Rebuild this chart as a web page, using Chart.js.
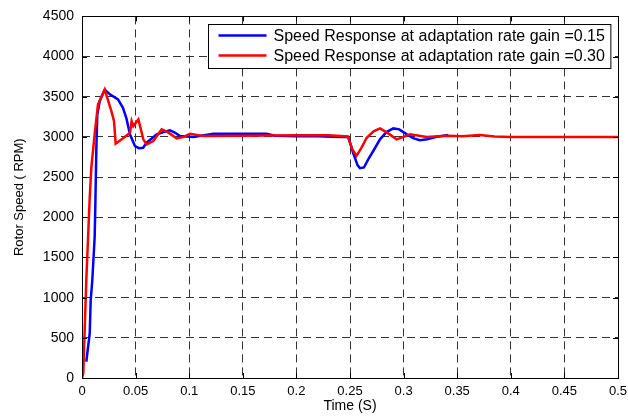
<!DOCTYPE html>
<html>
<head>
<meta charset="utf-8">
<script src="https://cdn.jsdelivr.net/npm/chart.js@4.4.0/dist/chart.umd.min.js"></script>
<style>
  html, body { margin: 0; padding: 0; background: #fff; }
  #wrap { width: 628px; height: 417px; }
</style>
</head>
<body>
<div id="wrap"><canvas id="speedChart" width="628" height="417"></canvas></div>
<script>
// Values
const timeBlue = [0.004, 0.0072, 0.0081, 0.0096, 0.0118, 0.0124, 0.0134, 0.0143, 0.0165, 0.0212,
  0.026, 0.0336, 0.0382, 0.0413, 0.0448, 0.0494, 0.053, 0.057, 0.0603, 0.0697, 0.076, 0.082,
  0.087, 0.0914, 0.104, 0.1225, 0.15, 0.172, 0.18, 0.2, 0.22, 0.24, 0.2484, 0.253, 0.257,
  0.2593, 0.263, 0.267, 0.2717, 0.278, 0.284, 0.2904, 0.296, 0.303, 0.309, 0.315, 0.322, 0.33, 0.3417];
const speedBlue = [202, 554, 967, 1214, 1751, 2123, 2866, 3280, 3445, 3590,
  3530, 3466, 3362, 3238, 3030, 2887, 2860, 2866, 2928, 3032, 3060, 3082,
  3050, 3011, 3000, 3040, 3040, 3040, 3015, 3010, 3010, 3000, 3000, 2800, 2650,
  2611, 2620, 2720, 2825, 2970, 3060, 3106, 3094, 3032, 2985, 2958, 2970, 3000, 3024];

const timeRed = [0, 0.0012, 0.0025, 0.004, 0.0072, 0.0087, 0.0118, 0.0149, 0.0212, 0.0274,
  0.0299, 0.0314, 0.038, 0.0448, 0.0463, 0.0479, 0.0526, 0.0572, 0.0603, 0.0665, 0.0743,
  0.08, 0.0883, 0.095, 0.1007, 0.113, 0.15, 0.2, 0.23, 0.248, 0.252, 0.256, 0.2605, 0.2656,
  0.272, 0.278, 0.285, 0.2935, 0.3, 0.306, 0.3215, 0.34, 0.355, 0.371, 0.385, 0.4, 0.5];
const speedRed = [0, 58, 595, 1214, 2247, 2618, 3032, 3404, 3590, 3321,
  3197, 2916, 2980, 3052, 3197, 3135, 3218, 2970, 2908, 2949, 3094,
  3060, 2982, 3000, 3040, 3011, 3015, 3020, 3020, 3005, 2850, 2763, 2860, 2990,
  3070, 3106, 3050, 2970, 3000, 3032, 3000, 3015, 3010, 3024, 3005, 3000, 3000];

const xTicks = [0, 0.05, 0.1, 0.15, 0.2, 0.25, 0.3, 0.35, 0.4, 0.45, 0.5];
const yTicks = [0, 500, 1000, 1500, 2000, 2500, 3000, 3500, 4000, 4500];

const labelBlue = 'Speed Response at adaptation rate gain =0.15';
const labelRed = 'Speed Response at adaptation rate gain =0.30';

const FONT = '"Liberation Sans", Arial, sans-serif';

function toPoints(xs, ys) {
  return xs.map((x, i) => ({ x: x, y: ys[i] }));
}

// box round the axes, with MATLAB style inward ticks
const axesBox = {
  id: 'axesBox',
  afterDraw(chart) {
    const { ctx, chartArea: a, scales } = chart;
    const len = 5;
    ctx.save();
    ctx.strokeStyle = '#000';
    ctx.lineWidth = 1;
    ctx.beginPath();
    xTicks.forEach(v => {
      const px = Math.round(scales.x.getPixelForValue(v)) + 0.5;
      ctx.moveTo(px, a.bottom); ctx.lineTo(px, a.bottom - len);
      ctx.moveTo(px, a.top); ctx.lineTo(px, a.top + len);
    });
    yTicks.forEach(v => {
      const py = Math.round(scales.y.getPixelForValue(v)) + 0.5;
      ctx.moveTo(a.left, py); ctx.lineTo(a.left + len, py);
      ctx.moveTo(a.right, py); ctx.lineTo(a.right - len, py);
    });
    ctx.stroke();
    ctx.strokeRect(Math.round(a.left) + 0.5, Math.round(a.top) + 0.5,
      Math.round(a.right - a.left), Math.round(a.bottom - a.top));
    ctx.restore();
  }
};

// legend drawn inside the plot, top right
const insideLegend = {
  id: 'insideLegend',
  afterDraw(chart) {
    const { ctx, chartArea: a } = chart;
    const sets = [chart.data.datasets[0], chart.data.datasets[1]];
    ctx.save();
    ctx.font = '16px ' + FONT;
    const textW = Math.max(...sets.map(d => ctx.measureText(d.label).width));
    const w = 65 + textW + 6;
    const h = 44;
    const x0 = Math.round(a.right - 8 - w) + 0.5;
    const y0 = Math.round(a.top + 8) + 0.5;
    ctx.fillStyle = '#fff';
    ctx.fillRect(x0, y0, w, h);
    ctx.strokeStyle = '#000';
    ctx.lineWidth = 1;
    ctx.strokeRect(x0, y0, w, h);
    sets.forEach((d, i) => {
      const yy = y0 + 11 + i * 20;
      ctx.strokeStyle = d.borderColor;
      ctx.lineWidth = 2.5;
      ctx.beginPath();
      ctx.moveTo(x0 + 10, yy);
      ctx.lineTo(x0 + 58, yy);
      ctx.stroke();
      ctx.fillStyle = '#000';
      ctx.textBaseline = 'middle';
      ctx.fillText(d.label, x0 + 65, yy + 1);
    });
    ctx.restore();
  }
};

const ctx = document.getElementById('speedChart').getContext('2d');
new Chart(ctx, {
  type: 'line',
  data: {
    datasets: [{
      label: labelBlue,
      data: toPoints(timeBlue, speedBlue),
      borderColor: '#0000ff',
      borderWidth: 2.5,
      pointRadius: 0,
      tension: 0,
      order: 1
    }, {
      label: labelRed,
      data: toPoints(timeRed, speedRed),
      borderColor: '#ff0000',
      borderWidth: 2.5,
      pointRadius: 0,
      tension: 0,
      order: 0
    }]
  },
  options: {
    responsive: false,
    animation: false,
    devicePixelRatio: 1,
    layout: { padding: { left: 0, right: 10, top: 15, bottom: 0 } },
    plugins: {
      legend: { display: false },
      tooltip: { enabled: false }
    },
    scales: {
      x: {
        type: 'linear',
        min: 0,
        max: 0.5,
        afterBuildTicks: axis => { axis.ticks = xTicks.map(v => ({ value: v })); },
        afterFit: scale => {
          scale.height = 39;
          scale.paddingLeft = 0;
          scale.paddingRight = 0;
        },
        ticks: {
          color: '#000',
          font: { family: FONT, size: 13 },
          padding: 6,
          maxRotation: 0,
          callback: v => String(v)
        },
        grid: { color: '#333', lineWidth: 1, drawTicks: false },
        border: { display: false, dash: [8, 5] },
        title: {
          display: true,
          text: 'Time (S)',
          color: '#000',
          font: { family: FONT, size: 14 },
          padding: { top: 0, bottom: 2 }
        }
      },
      y: {
        type: 'linear',
        min: 0,
        max: 4500,
        afterBuildTicks: axis => { axis.ticks = yTicks.map(v => ({ value: v })); },
        afterFit: scale => { scale.width = 82; },
        ticks: {
          color: '#000',
          font: { family: FONT, size: 14 },
          padding: 8,
          callback: v => String(v)
        },
        grid: { color: '#333', lineWidth: 1, drawTicks: false },
        border: { display: false, dash: [8, 5] },
        title: {
          display: true,
          text: 'Rotor Speed ( RPM)',
          color: '#000',
          font: { family: FONT, size: 13 },
          padding: { top: 12, bottom: 0 }
        }
      }
    }
  },
  plugins: [axesBox, insideLegend]
});
</script>
</body>
</html>
